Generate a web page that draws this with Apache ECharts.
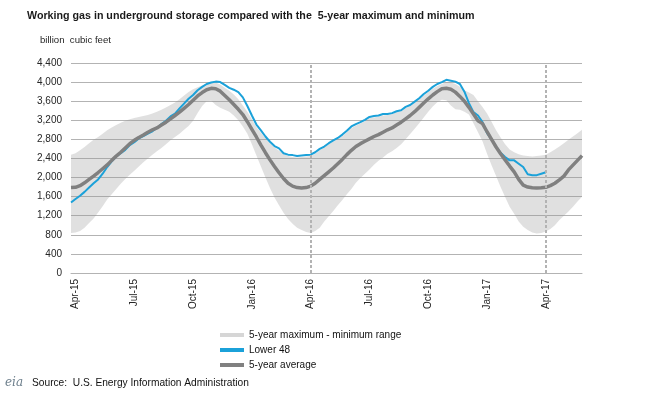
<!DOCTYPE html>
<html lang="en">
<head>
  <meta charset="UTF-8" />
  <title>Working gas in underground storage</title>
  <script src="https://cdn.jsdelivr.net/npm/echarts@6/dist/echarts.min.js"></script>
  <style>
    body { margin: 0; background: #fff; }
    #chart { width: 651px; height: 398px; }
  </style>
</head>
<body>
  <div id="chart"></div>
  <script>
    // weekly storage, billion cubic feet, first week ending 2015-03-27
    const firstWeek = [2015, 2, 27];

    const lower48 = [
      1477, 1550, 1620, 1700, 1790, 1880, 1960, 2080, 2220, 2340,
      2440, 2510, 2580, 2680, 2740, 2820, 2870, 2920, 2970, 3040,
      3120, 3190, 3280, 3340, 3450, 3550, 3650, 3730, 3830, 3900,
      3960, 3990, 4010, 4000, 3940, 3880, 3840, 3790, 3680, 3500,
      3300, 3110, 2990, 2860, 2750, 2660, 2610, 2510, 2480, 2470,
      2450, 2460, 2470, 2480, 2530, 2600, 2650, 2720, 2780, 2830,
      2900, 2980, 3070, 3120, 3160, 3210, 3270, 3290, 3300, 3330,
      3330, 3350, 3390, 3410, 3480, 3520, 3590, 3660, 3750, 3820,
      3900, 3960, 4000, 4047, 4030, 4010, 3960, 3800, 3560, 3370,
      3300, 3160, 2930, 2800, 2650, 2520, 2430, 2360, 2360, 2290,
      2220, 2070, 2050, 2050, 2080, 2110
    ];

    const fiveYearAvg = [
      1790, 1795, 1830, 1890, 1960, 2030, 2105, 2185, 2265, 2360,
      2450, 2530, 2620, 2710, 2780, 2840, 2890, 2950, 3000, 3040,
      3100, 3160, 3230, 3300, 3370, 3450, 3530, 3620, 3710, 3780,
      3840, 3870, 3860, 3810, 3720, 3630, 3530, 3430, 3320, 3170,
      3010, 2850, 2680, 2520, 2370, 2230, 2100, 1980, 1880, 1820,
      1790, 1780, 1790, 1820, 1880, 1960, 2040, 2120, 2200, 2290,
      2380, 2480, 2570, 2650, 2710, 2760, 2810, 2860, 2900, 2950,
      3000, 3040, 3100, 3160, 3230, 3300, 3380, 3470, 3560, 3650,
      3730, 3800, 3860, 3870, 3850, 3790, 3700, 3600, 3470, 3330,
      3190, 3130, 2960, 2800, 2640, 2500, 2370, 2240, 2120, 1960,
      1840, 1800, 1785, 1780, 1785, 1795, 1830, 1880, 1950, 2030,
      2160, 2260, 2360, 2460
    ];

    const fiveYearMax = [
      2480, 2510, 2570, 2640, 2720, 2790, 2850, 2920, 2990, 3050,
      3100, 3150, 3190, 3220, 3250, 3270, 3290, 3310, 3340, 3380,
      3420, 3470, 3520, 3570, 3640, 3720, 3790, 3850, 3890, 3930,
      3960, 3980, 3990, 3950, 3880, 3820, 3740, 3640, 3510, 3380,
      3220, 3060, 2940, 2830, 2720, 2630, 2560, 2500, 2450, 2430,
      2420, 2430, 2440, 2450, 2500, 2570, 2630, 2700, 2760, 2810,
      2870, 2950, 3040, 3090, 3130, 3180, 3240, 3260, 3280, 3300,
      3310, 3330, 3370, 3390, 3450, 3500, 3570, 3640, 3720, 3790,
      3860, 3920, 3960, 4000, 3990, 3960, 3900, 3830, 3780, 3730,
      3600, 3480, 3340, 3170, 2990, 2840, 2700, 2590, 2530, 2490,
      2460, 2450, 2440, 2450, 2460, 2480, 2530, 2590, 2650, 2720,
      2790, 2860, 2930, 3000
    ];

    const fiveYearMin = [
      840, 850, 880, 950, 1050, 1140, 1270, 1400, 1540, 1650,
      1760, 1870, 1970, 2060, 2140, 2230, 2320, 2400, 2480, 2550,
      2620, 2700, 2780, 2850, 2920, 3000, 3080, 3190, 3350, 3500,
      3600, 3610, 3520, 3460, 3420, 3380, 3300, 3200, 3070, 2920,
      2700, 2460, 2230, 2000, 1780, 1580, 1420, 1260, 1130, 1030,
      950, 900, 860, 840, 880, 950, 1080, 1190, 1300, 1420,
      1530, 1650, 1760, 1890, 1990, 2080, 2170, 2270, 2350, 2420,
      2500, 2550, 2620, 2700, 2800, 2910, 3020, 3140, 3260, 3380,
      3490, 3580, 3630, 3620, 3510, 3430, 3420, 3380, 3320, 3140,
      2950, 2760, 2500, 2260, 2030, 1800, 1590, 1390, 1240, 1080,
      970, 900, 850, 830, 840, 870, 920, 1000, 1110, 1200,
      1290, 1390, 1500, 1600
    ];

    const tickLabels = ['Apr-15', 'Jul-15', 'Oct-15', 'Jan-16', 'Apr-16', 'Jul-16', 'Oct-16', 'Jan-17', 'Apr-17'];
    const tickDates = [[2015, 3, 1], [2015, 6, 1], [2015, 9, 1], [2016, 0, 1], [2016, 3, 1], [2016, 6, 1], [2016, 9, 1], [2017, 0, 1], [2017, 3, 1]];
    const markerDates = [[2016, 3, 1], [2017, 2, 31]];

    // one category per week; a date goes to its nearest week
    const day = 86400000;
    const t0 = Date.UTC(firstWeek[0], firstWeek[1], firstWeek[2]);
    const weekOf = d => Math.round((Date.UTC(d[0], d[1], d[2]) - t0) / day / 7);
    const weeks = fiveYearAvg.map((_, i) => {
      const d = new Date(t0 + i * 7 * day);
      return d.toISOString().slice(0, 10);
    });
    const labelAt = {};
    tickDates.forEach((d, i) => { labelAt[weekOf(d)] = tickLabels[i]; });

    const font = '"Liberation Sans", Arial, sans-serif';

    const chart = echarts.init(document.getElementById('chart'));
    chart.setOption({
      animation: false,
      textStyle: { fontFamily: font },
      title: {
        text: 'Working gas in underground storage compared with the  5-year maximum and minimum',
        left: 22, top: 6,
        textStyle: { fontSize: 10.7, fontWeight: 'bold', color: '#1a1a1a', fontFamily: font }
      },
      grid: { left: 71, right: 69, top: 63, bottom: 125 },
      legend: {
        orient: 'vertical',
        left: 220, top: 330, padding: 0,
        itemWidth: 24, itemHeight: 4, itemGap: 5,
        textStyle: { fontSize: 10, color: '#111', fontFamily: font },
        data: [
          { name: '5-year maximum - minimum range', icon: 'rect', itemStyle: { color: '#d6d6d6' } },
          { name: 'Lower 48', icon: 'rect', itemStyle: { color: '#1ba1d9' } },
          { name: '5-year average', icon: 'rect', itemStyle: { color: '#808080' } }
        ]
      },
      xAxis: {
        type: 'category',
        data: weeks,
        boundaryGap: false,
        axisLine: { lineStyle: { color: '#b3b3b3', width: 1 } },
        axisTick: { show: false },
        splitLine: { show: false },
        axisLabel: {
          interval: i => labelAt[i] !== undefined,
          rotate: 90,
          fontSize: 10,
          color: '#262626',
          margin: 6,
          formatter: (v, i) => labelAt[i] || ''
        }
      },
      yAxis: {
        type: 'value',
        min: 0, max: 4400, interval: 400,
        axisLine: { show: false },
        axisTick: { show: false },
        axisLabel: { fontSize: 10, color: '#262626', margin: 9 },
        splitLine: { lineStyle: { color: '#b3b3b3', width: 1 } }
      },
      graphic: [
        { type: 'text', left: 40, top: 35, style: { text: 'billion  cubic feet', font: '9.6px ' + font, fill: '#262626' } },
        { type: 'text', left: 5, top: 377, style: { text: 'eia', font: 'italic 12px "DejaVu Serif", serif', fill: '#6d7f8c' } },
        { type: 'text', left: 32, top: 378, style: { text: 'Source:  U.S. Energy Information Administration', font: '10.2px ' + font, fill: '#111' } }
      ],
      series: [
        {
          name: 'min',
          type: 'line',
          stack: 'band',
          symbol: 'none',
          silent: true,
          lineStyle: { opacity: 0 },
          data: fiveYearMin
        },
        {
          name: '5-year maximum - minimum range',
          type: 'line',
          stack: 'band',
          symbol: 'none',
          silent: true,
          lineStyle: { opacity: 0 },
          itemStyle: { color: '#d6d6d6' },
          areaStyle: { color: 'rgba(150,150,150,0.42)' },
          data: fiveYearMax.map((v, i) => v - fiveYearMin[i]),
          markLine: {
            symbol: 'none',
            silent: true,
            label: { show: false },
            lineStyle: { color: '#b3b3b3', type: [3, 2], width: 2 },
            data: markerDates.map(d => ({ xAxis: weeks[weekOf(d)] }))
          }
        },
        {
          name: 'Lower 48',
          type: 'line',
          symbol: 'none',
          lineStyle: { color: '#1ba1d9', width: 2 },
          itemStyle: { color: '#1ba1d9' },
          data: lower48
        },
        {
          name: '5-year average',
          type: 'line',
          symbol: 'none',
          lineStyle: { color: '#808080', width: 3.5 },
          itemStyle: { color: '#808080' },
          data: fiveYearAvg
        }
      ]
    });
  </script>
</body>
</html>
